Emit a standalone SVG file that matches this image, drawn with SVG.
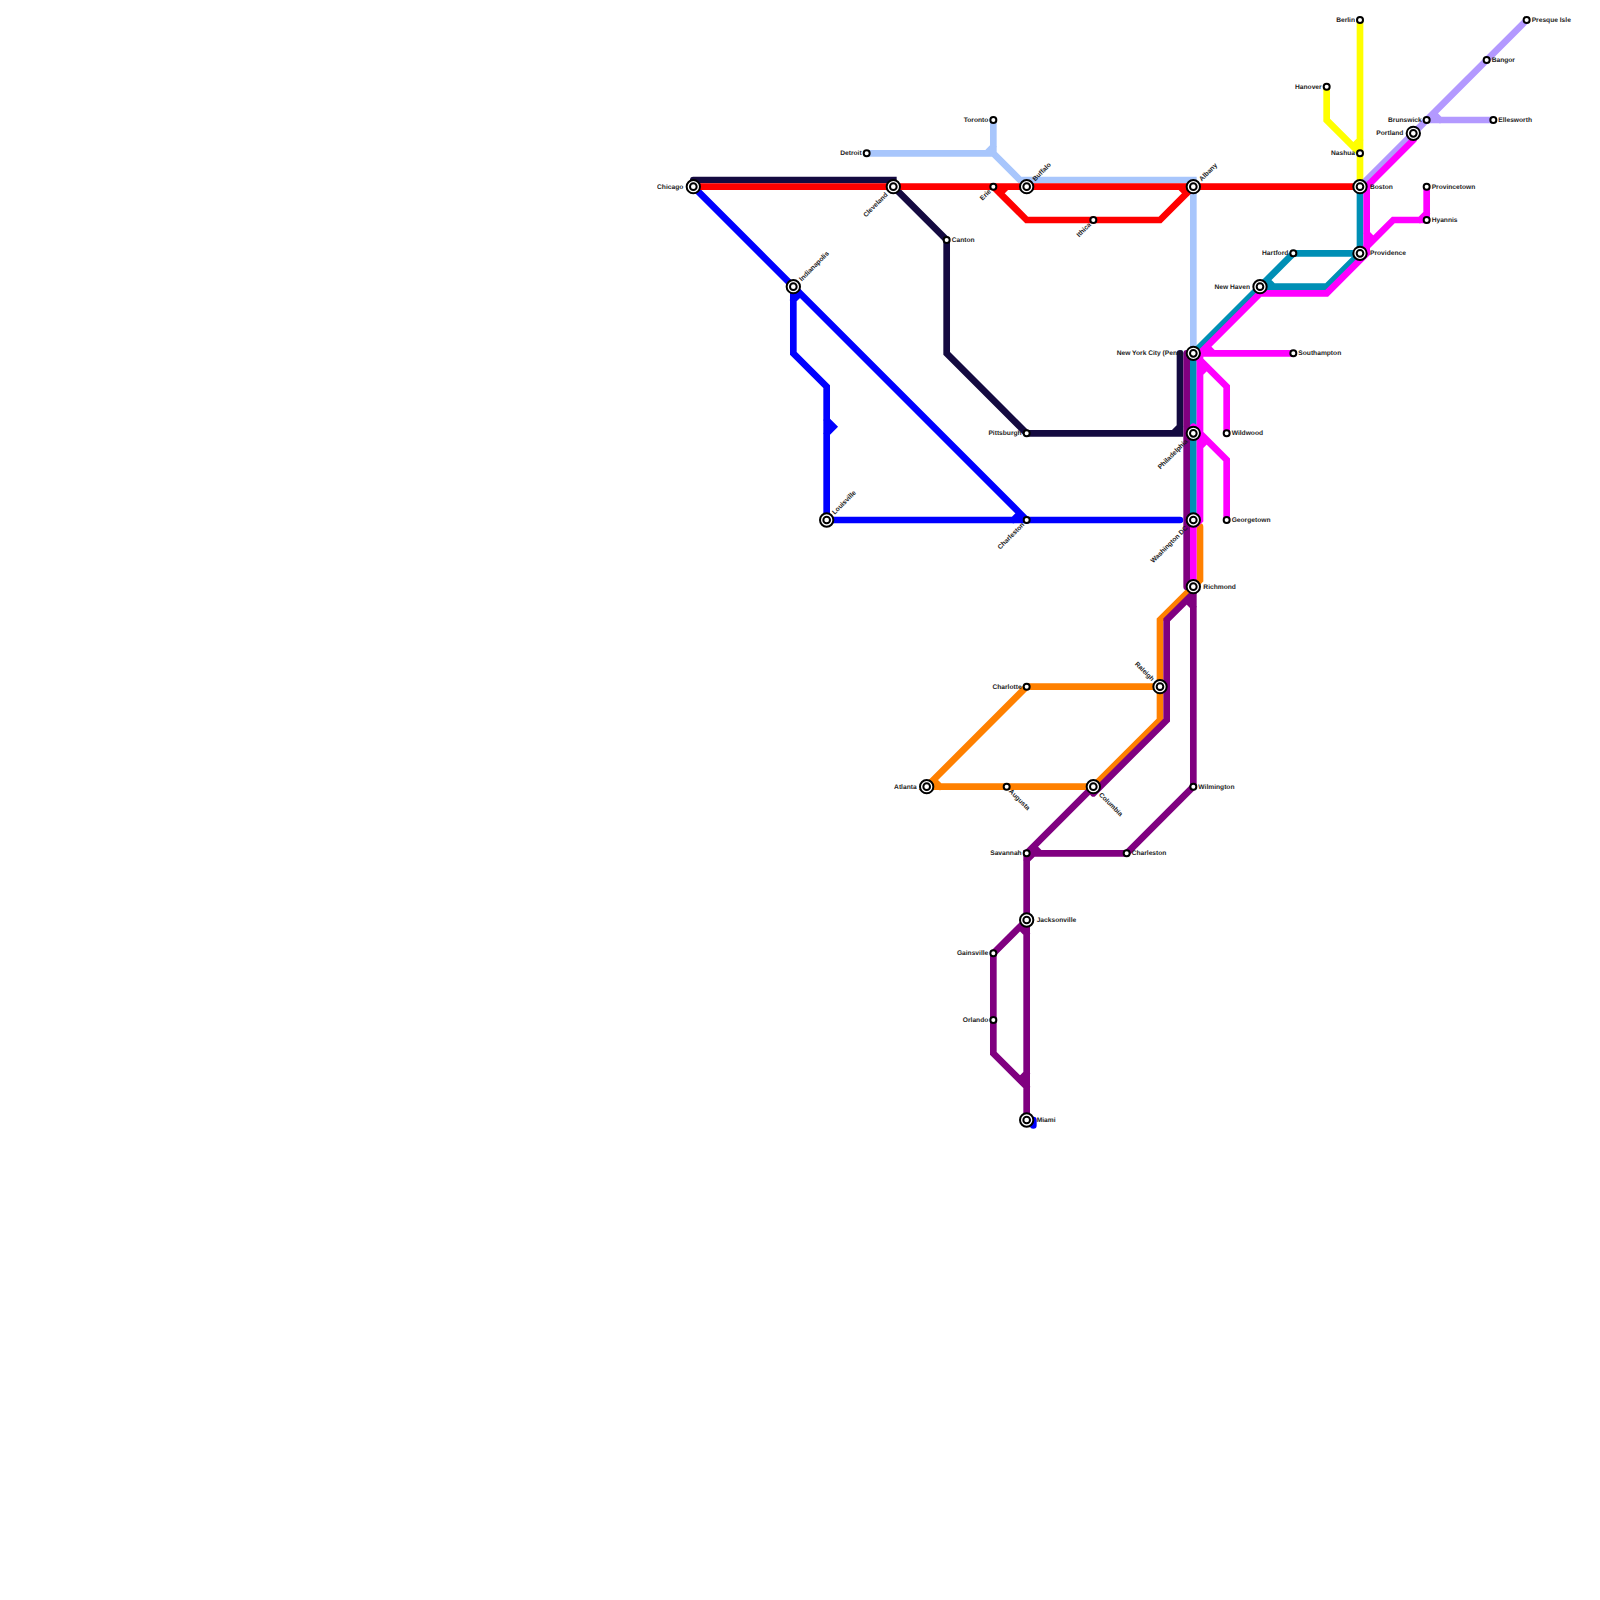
<svg xmlns="http://www.w3.org/2000/svg" width="1600" height="1600" viewBox="0 0 1600 1600">
<style>
.l{fill:none;stroke-width:6.67;stroke-linecap:round;stroke-linejoin:miter}
.yellow{stroke:#ffff00}.lav{stroke:#b399ff}.sky{stroke:#a8c6fc}.navy{stroke:#140a40}.blue{stroke:#0000ff}.red{stroke:#ff0000}.orange{stroke:#ff8000}.purple{stroke:#800080}.teal{stroke:#008fb5}.mag{stroke:#ff00ff}
.o{fill:#fff;stroke:#000;stroke-width:2}
.i{fill:#fff;stroke:#000;stroke-width:2}
.s{fill:#fff;stroke:#000;stroke-width:2}
text{font-family:"Liberation Sans",Arial,sans-serif;font-weight:bold;font-size:6.67px;fill:#1a1a1a;text-rendering:geometricPrecision;opacity:.99}
.e{text-anchor:end}
</style>
<rect width="1600" height="1600" fill="#fff"/>
<g id="connectors">
<path class="l yellow" d="M1360 20V186.67M1326.67 86.67V120L1360 153.33M1353.33 146.67L1360 140"/>
<path class="l lav" d="M1526.67 20L1360 186.67M1426.67 120H1493.33M1433.33 113.33L1440 120"/>
<path class="l sky" d="M866.67 153.33H993.33L1020 180H1193.33V353.33M993.33 120V153.33M986.67 153.33L993.33 146.67"/>
<path class="l navy" d="M693.33 180H893.33V186.67L946.67 240V353.33L1026.67 433.33H1180V353.33M1173.33 433.33L1180 426.67"/>
<path class="l blue" d="M693.33 186.67L1026.67 520M793.33 286.67V353.33L826.67 386.67V520H1180M1013.33 520L1020 513.33M793.33 300L800 293.33M826.67 420L833.33 426.67L826.67 433.33M1033.33 1120V1125.5"/>
<path class="l red" d="M693.33 186.67H1360M993.33 186.67L1026.67 220H1160L1193.33 186.67M1000 193.33L1006.67 186.67M1186.67 193.33L1180 186.67"/>
<path class="l orange" d="M1200 526.67V580L1160 620V720L1093.33 786.67H926.67L1026.67 686.67H1160M933.33 780L940 786.67"/>
<path class="l purple" d="M1186.67 353.33V586.67M1193.33 586.67V786.67L1126.67 853.33H1026.67V1120M1193.33 593.33L1166.67 620V720L1093.33 793.33M1093.33 786.67L1026.67 853.33M1186.67 600L1193.33 606.67M1033.33 846.67L1040 853.33M1026.67 860L1033.33 853.33M1026.67 920L993.33 953.33V1053.33L1026.67 1086.67M1020 926.67L1026.67 933.33M1020 1080L1026.67 1073.33"/>
<path class="l teal" d="M1360 186.67V253.33H1293.33L1193.33 353.33V520M1260 286.67H1326.67L1360 253.33M1266.67 280L1273.33 286.67"/>
<path class="l mag" d="M1413.33 140L1366.67 186.67V253.33L1326.67 293.33H1260L1200 353.33M1193.33 353.33H1293.33M1200 353.33V520L1193.33 526.67V586.67M1426.67 186.67V220H1393.33L1360 253.33M1426.67 213.33L1420 220M1366.67 233.33L1373.33 240M1206.67 346.67L1213.33 353.33M1193.33 353.33L1226.67 386.67V433.33M1200 373.33L1206.67 366.67M1193.33 426.67L1226.67 460V520M1200 446.67L1206.67 440"/>
</g>
<g id="chicago"><circle class="o" cx="693.33" cy="186.67" r="6.67"/><circle class="i" cx="693.33" cy="186.67" r="3.33"/><text class="e" x="683.33" y="188.6">Chicago</text></g>
<g id="cleveland"><circle class="o" cx="893.33" cy="186.67" r="6.67"/><circle class="i" cx="893.33" cy="186.67" r="3.33"/><text class="e" transform="translate(886.5 193.5) rotate(-45)" y="2.3">Cleveland</text></g>
<g id="indianapolis"><circle class="o" cx="793.33" cy="286.67" r="6.67"/><circle class="i" cx="793.33" cy="286.67" r="3.33"/><text transform="translate(800.2 279.8) rotate(-45)" y="2.3">Indianapolis</text></g>
<g id="louisville"><circle class="o" cx="826.67" cy="520" r="6.67"/><circle class="i" cx="826.67" cy="520" r="3.33"/><text transform="translate(833 513.2) rotate(-45)" y="2.3">Louisville</text></g>
<g id="buffalo"><circle class="o" cx="1026.67" cy="186.67" r="6.67"/><circle class="i" cx="1026.67" cy="186.67" r="3.33"/><text transform="translate(1033.5 179.8) rotate(-45)" y="2.3">Buffalo</text></g>
<g id="albany"><circle class="o" cx="1193.33" cy="186.67" r="6.67"/><circle class="i" cx="1193.33" cy="186.67" r="3.33"/><text transform="translate(1200.2 179.8) rotate(-45)" y="2.3">Albany</text></g>
<g id="boston"><circle class="o" cx="1360" cy="186.67" r="6.67"/><circle class="i" cx="1360" cy="186.67" r="3.33"/><text x="1370" y="188.6">Boston</text></g>
<g id="providence"><circle class="o" cx="1360" cy="253.33" r="6.67"/><circle class="i" cx="1360" cy="253.33" r="3.33"/><text x="1370" y="255.2">Providence</text></g>
<g id="new-haven"><circle class="o" cx="1260" cy="286.67" r="6.67"/><circle class="i" cx="1260" cy="286.67" r="3.33"/><text class="e" x="1250" y="288.6">New Haven</text></g>
<g id="portland"><circle class="o" cx="1413.33" cy="133.33" r="6.67"/><circle class="i" cx="1413.33" cy="133.33" r="3.33"/><text class="e" x="1403.33" y="135.2">Portland</text></g>
<g id="new-york"><circle class="o" cx="1193.33" cy="353.33" r="6.67"/><circle class="i" cx="1193.33" cy="353.33" r="3.33"/><text class="e" x="1183.33" y="355.2">New York City (Penn)</text></g>
<g id="philadelphia"><circle class="o" cx="1193.33" cy="433.33" r="6.67"/><circle class="i" cx="1193.33" cy="433.33" r="3.33"/><text class="e" transform="translate(1186.5 440.2) rotate(-45)" y="2.3">Philadelphia</text></g>
<g id="washington"><circle class="o" cx="1193.33" cy="520" r="6.67"/><circle class="i" cx="1193.33" cy="520" r="3.33"/><text class="e" transform="translate(1186.5 526.8) rotate(-45)" y="2.3">Washington DC</text></g>
<g id="richmond"><circle class="o" cx="1193.33" cy="586.67" r="6.67"/><circle class="i" cx="1193.33" cy="586.67" r="3.33"/><text x="1203.33" y="588.6">Richmond</text></g>
<g id="raleigh"><circle class="o" cx="1160" cy="686.67" r="6.67"/><circle class="i" cx="1160" cy="686.67" r="3.33"/><text class="e" transform="translate(1153.2 679.8) rotate(45)" y="2.3">Raleigh</text></g>
<g id="atlanta"><circle class="o" cx="926.67" cy="786.67" r="6.67"/><circle class="i" cx="926.67" cy="786.67" r="3.33"/><text class="e" x="916.67" y="788.6">Atlanta</text></g>
<g id="columbia"><circle class="o" cx="1093.33" cy="786.67" r="6.67"/><circle class="i" cx="1093.33" cy="786.67" r="3.33"/><text transform="translate(1100.2 793.5) rotate(45)" y="2.3">Columbia</text></g>
<g id="jacksonville"><circle class="o" cx="1026.67" cy="920" r="6.67"/><circle class="i" cx="1026.67" cy="920" r="3.33"/><text x="1036.67" y="921.9">Jacksonville</text></g>
<g id="miami"><circle class="o" cx="1026.67" cy="1120" r="6.67"/><circle class="i" cx="1026.67" cy="1120" r="3.33"/><text x="1036.67" y="1121.9">Miami</text></g>
<g id="detroit"><circle class="s" cx="866.67" cy="153.33" r="3"/><text class="e" x="861.67" y="155.2">Detroit</text></g>
<g id="toronto"><circle class="s" cx="993.33" cy="120" r="3"/><text class="e" x="988.33" y="121.9">Toronto</text></g>
<g id="erie"><circle class="s" cx="993.33" cy="186.67" r="3"/><text class="e" transform="translate(989.8 190.2) rotate(-45)" y="2.3">Erie</text></g>
<g id="ithica"><circle class="s" cx="1093.33" cy="220" r="3"/><text class="e" transform="translate(1089.8 223.5) rotate(-45)" y="2.3">Ithica</text></g>
<g id="canton"><circle class="s" cx="946.67" cy="240" r="3"/><text x="951.67" y="241.9">Canton</text></g>
<g id="pittsburgh"><circle class="s" cx="1026.67" cy="433.33" r="3"/><text class="e" x="1021.67" y="435.2">Pittsburgh</text></g>
<g id="charleston-wv"><circle class="s" cx="1026.67" cy="520" r="3"/><text class="e" transform="translate(1023.1 523.5) rotate(-45)" y="2.3">Charleston</text></g>
<g id="berlin"><circle class="s" cx="1360" cy="20" r="3"/><text class="e" x="1355" y="21.9">Berlin</text></g>
<g id="hanover"><circle class="s" cx="1326.67" cy="86.67" r="3"/><text class="e" x="1321.67" y="88.6">Hanover</text></g>
<g id="nashua"><circle class="s" cx="1360" cy="153.33" r="3"/><text class="e" x="1355" y="155.2">Nashua</text></g>
<g id="presque-isle"><circle class="s" cx="1526.67" cy="20" r="3"/><text x="1531.67" y="21.9">Presque Isle</text></g>
<g id="bangor"><circle class="s" cx="1486.67" cy="60" r="3"/><text x="1491.67" y="61.9">Bangor</text></g>
<g id="brunswick"><circle class="s" cx="1426.67" cy="120" r="3"/><text class="e" x="1421.67" y="121.9">Brunswick</text></g>
<g id="ellesworth"><circle class="s" cx="1493.33" cy="120" r="3"/><text x="1498.33" y="121.9">Ellesworth</text></g>
<g id="provincetown"><circle class="s" cx="1426.67" cy="186.67" r="3"/><text x="1431.67" y="188.6">Provincetown</text></g>
<g id="hyannis"><circle class="s" cx="1426.67" cy="220" r="3"/><text x="1431.67" y="221.9">Hyannis</text></g>
<g id="hartford"><circle class="s" cx="1293.33" cy="253.33" r="3"/><text class="e" x="1288.33" y="255.2">Hartford</text></g>
<g id="southampton"><circle class="s" cx="1293.33" cy="353.33" r="3"/><text x="1298.33" y="355.2">Southampton</text></g>
<g id="wildwood"><circle class="s" cx="1226.67" cy="433.33" r="3"/><text x="1231.67" y="435.2">Wildwood</text></g>
<g id="georgetown"><circle class="s" cx="1226.67" cy="520" r="3"/><text x="1231.67" y="521.9">Georgetown</text></g>
<g id="charlotte"><circle class="s" cx="1026.67" cy="686.67" r="3"/><text class="e" x="1021.67" y="688.6">Charlotte</text></g>
<g id="augusta"><circle class="s" cx="1006.67" cy="786.67" r="3"/><text transform="translate(1010.2 790.2) rotate(45)" y="2.3">Augusta</text></g>
<g id="wilmington"><circle class="s" cx="1193.33" cy="786.67" r="3"/><text x="1198.33" y="788.6">Wilmington</text></g>
<g id="savannah"><circle class="s" cx="1026.67" cy="853.33" r="3"/><text class="e" x="1021.67" y="855.2">Savannah</text></g>
<g id="charleston-sc"><circle class="s" cx="1126.67" cy="853.33" r="3"/><text x="1131.67" y="855.2">Charleston</text></g>
<g id="gainsville"><circle class="s" cx="993.33" cy="953.33" r="3"/><text class="e" x="988.33" y="955.2">Gainsville</text></g>
<g id="orlando"><circle class="s" cx="993.33" cy="1020" r="3"/><text class="e" x="988.33" y="1021.9">Orlando</text></g>
</svg>
